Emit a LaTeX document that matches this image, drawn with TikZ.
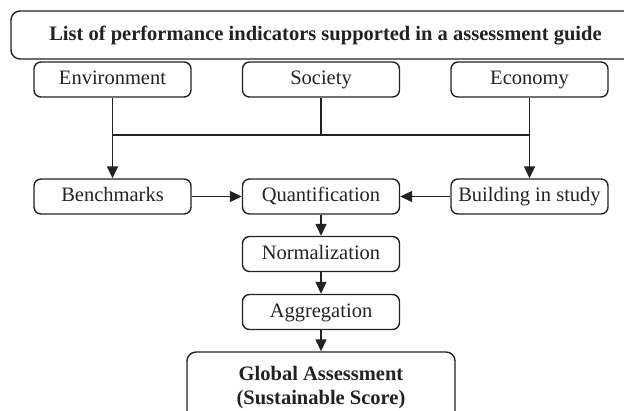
\documentclass[tikz,border=0pt]{standalone}
\usepackage{fontspec}
\setmainfont{Liberation Serif}
\usetikzlibrary{arrows.meta}
\definecolor{ink}{HTML}{222222}
\definecolor{txt}{HTML}{222222}
\tikzset{
  box/.style={draw=ink, line width=1.4bp, rounded corners=7bp, inner sep=0pt,
    minimum width=157bp, minimum height=35bp, text=txt,
    text height=14bp, text depth=4bp,
    font=\fontsize{20.5bp}{22bp}\selectfont},
  conn/.style={draw=ink, line width=1.4bp},
  arr/.style={conn, -{Triangle[length=12bp,width=11bp]}}
}
\begin{document}
\begin{tikzpicture}[x=1bp,y=-1bp]
\useasboundingbox (0,0) rectangle (624,410);
\clip (0,0) rectangle (624,410);
\node[box, minimum width=629bp, minimum height=48bp, rounded corners=9bp, font=\fontsize{20.5bp}{22bp}\selectfont\bfseries] (top) at (325.5,35) {List of performance indicators supported in a assessment guide};
\node[box] (env) at (112.5,79.5) {Environment};
\node[box] (soc) at (321,79.5) {Society};
\node[box] (eco) at (529.5,79.5) {Economy};
\node[box] (ben) at (112.5,196.5) {Benchmarks};
\node[box] (qua) at (321,196.5) {Quantification};
\node[box] (bld) at (529.5,196.5) {Building in study};
\node[box] (nor) at (321,254) {Normalization};
\node[box] (agg) at (321,312) {Aggregation};
\node[box, minimum width=268bp, minimum height=72bp, rounded corners=9bp, align=center,
  text height=, text depth=,
  font=\fontsize{20.5bp}{24bp}\selectfont\bfseries] (glo) at (321,388) {Global Assessment\\(Sustainable Score)};
\coordinate (j) at (0,135);
\draw[conn] (env.south |- j) -- (eco.south |- j);
\draw[conn] (soc.south) -- (soc.south |- j);
\draw[arr] (env.south) -- (ben.north);
\draw[arr] (eco.south) -- (bld.north);
\draw[arr] (ben.east) -- (qua.west);
\draw[arr] (bld.west) -- (qua.east);
\draw[arr] (qua.south) -- (nor.north);
\draw[arr] (nor.south) -- (agg.north);
\draw[arr] (agg.south) -- (glo.north);
\end{tikzpicture}
\end{document}
